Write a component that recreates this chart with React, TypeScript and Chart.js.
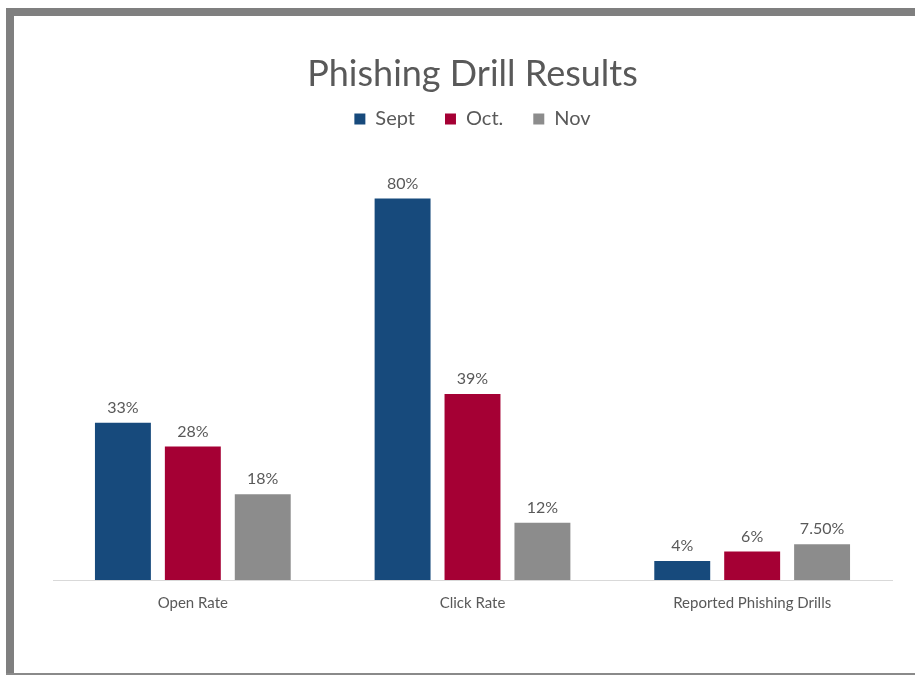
import React, { useEffect, useRef } from "react";
import { Chart, registerables } from "chart.js";

Chart.register(...registerables);

const categories = ["Open Rate", "Click Rate", "Reported Phishing Drills"];
const seriesNames = ["Sept", "Oct.", "Nov"];
const septValues = [0.33, 0.8, 0.04];
const octValues = [0.28, 0.39, 0.06];
const novValues = [0.18, 0.12, 0.075];
const septLabels = ["33%", "80%", "4%"];
const octLabels = ["28%", "39%", "6%"];
const novLabels = ["18%", "12%", "7.50%"];
const seriesColors = ["#174A7C", "#A50034", "#8C8C8C"];

const FONT = "Lato, 'Open Sans', sans-serif";
const TEXT = "#595959";

const valueLabelPlugin = {
  id: "valueLabels",
  afterDatasetsDraw(chart: any) {
    const ctx = chart.ctx;
    const labelSets = [septLabels, octLabels, novLabels];
    ctx.save();
    ctx.font = `16px ${FONT}`;
    ctx.fillStyle = TEXT;
    ctx.textAlign = "center";
    ctx.textBaseline = "bottom";
    chart.data.datasets.forEach((_ds: any, i: number) => {
      const meta = chart.getDatasetMeta(i);
      meta.data.forEach((el: any, j: number) => {
        ctx.fillText(labelSets[i][j], el.x, el.y - 7);
      });
    });
    ctx.restore();
  },
};

export default function App() {
  const ref = useRef<HTMLCanvasElement | null>(null);
  useEffect(() => {
    if (!ref.current) return;
    const chart = new Chart(ref.current, {
      type: "bar",
      data: {
        labels: categories,
        datasets: [
          { label: seriesNames[0], data: septValues, backgroundColor: seriesColors[0] },
          { label: seriesNames[1], data: octValues, backgroundColor: seriesColors[1] },
          { label: seriesNames[2], data: novValues, backgroundColor: seriesColors[2] },
        ],
      },
      options: {
        animation: false,
        responsive: false,
        maintainAspectRatio: false,
        layout: { padding: { left: 53, right: 23, bottom: 49, top: 0 } },
        datasets: { bar: { categoryPercentage: 0.75, barPercentage: 0.8 } },
        plugins: {
          tooltip: { enabled: false },
          title: {
            display: true,
            text: "Phishing Drill Results",
            color: TEXT,
            font: { family: FONT, size: 36, weight: "normal", lineHeight: 1.0 },
            padding: { top: 56, bottom: -13 },
          },
          legend: {
            display: true,
            labels: {
              color: TEXT,
              font: { family: FONT, size: 20 },
              boxWidth: 11,
              boxHeight: 11,
              padding: 30,
            },
          },
        },
        scales: {
          x: {
            grid: { display: false, drawTicks: false },
            border: { display: true, color: "#D9D9D9", width: 1 },
            ticks: { color: TEXT, font: { family: FONT, size: 15 }, padding: 14 },
          },
          y: {
            display: false,
            min: 0,
            max: 0.925,
          },
        },
      },
      plugins: [valueLabelPlugin],
    } as any);
    return () => chart.destroy();
  }, []);
  return (
    <div style={{ position: "absolute", left: 0, top: 0, width: 915, height: 675, background: "#fff", overflow: "hidden" }}>
      <canvas ref={ref} width={915} height={675} style={{ position: "absolute", left: 0, top: 0, width: 915, height: 675 }} />
      <div style={{ position: "absolute", left: 6, top: 8, width: 8, height: 667, background: "#7F7F7F" }} />
      <div style={{ position: "absolute", left: 6, top: 8, width: 909, height: 8, background: "#7F7F7F" }} />
      <div style={{ position: "absolute", left: 6, top: 673, width: 909, height: 2, background: "#8A8A8A" }} />
    </div>
  );
}
